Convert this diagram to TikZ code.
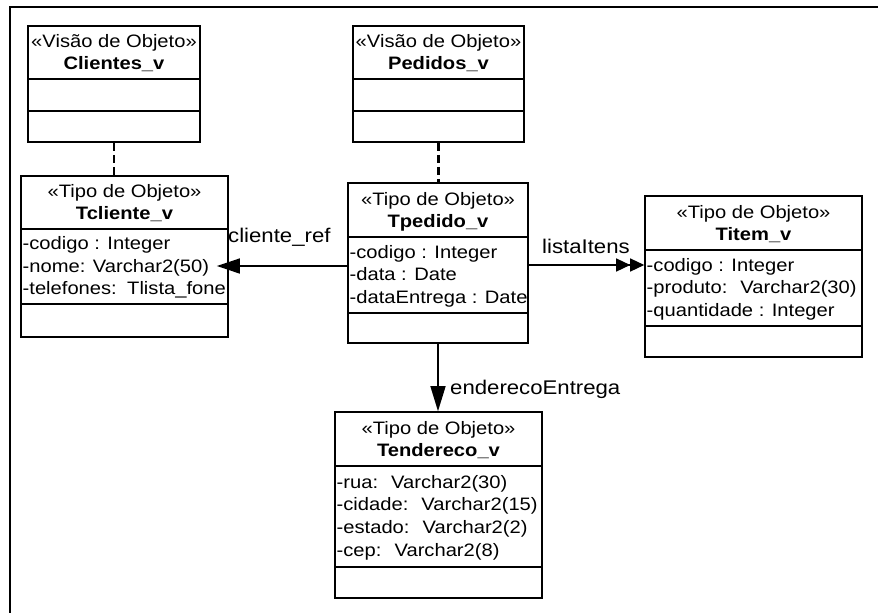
\documentclass[tikz,border=0pt]{standalone}
\usepackage{fontspec}
\setmainfont{Liberation Sans}[FakeStretch=1.12]
\usetikzlibrary{arrows.meta}

\tikzset{
  umlbox/.style={draw, line width=1.6pt, inner sep=0pt, fill=white},
  compsep/.style={line width=1.6pt},
  stereo/.style={anchor=base, inner sep=0pt, font=\fontsize{18}{20}\selectfont},
  cname/.style={anchor=base, inner sep=0pt, font=\fontsize{18}{20}\selectfont\bfseries},
  attr/.style={anchor=base west, inner sep=0pt, font=\fontsize{18}{20}\selectfont},
  attrr/.style={anchor=base east, inner sep=0pt, font=\fontsize{18}{20}\selectfont},
  role/.style={anchor=base west, inner sep=0pt, font=\fontsize{19.8}{22}\selectfont},
  assoc/.style={line width=1.4pt},
  realize/.style={line width=2.6pt, dash pattern=on 8pt off 4pt},
  frameline/.style={line width=2pt},
}

% class rectangle with its two compartment separators
% #1 name, #2 x1, #3 y1, #4 x2, #5 y2, #6 header separator, #7 attribute separator
\newcommand\umlframe[7]{%
  \node[umlbox, minimum width={(#4-#2)*1pt}, minimum height={(#5-#3)*1pt}]
    (#1) at ({(#2+#4)/2},{(#3+#5)/2}) {};
  \draw[compsep] (#1.west |- 0,#6) -- (#1.east |- 0,#6);
  \draw[compsep] (#1.west |- 0,#7) -- (#1.east |- 0,#7);
}

\begin{document}
\begin{tikzpicture}[x=1pt, y=-1pt]
\useasboundingbox (0,0) rectangle (878,613);

% outer frame
\draw[frameline] (878,6.5) -- (10,6.5) -- (10,613);

% views
\umlframe{clientes}{28}{26}{200}{142}{79}{111}
\node[stereo] (clientes-st) at (114,47.5) {«Visão de Objeto»};
\node[cname]  (clientes-nm) at (114,69.5) {Clientes\_v};

\umlframe{pedidos}{353}{26}{524}{142}{79}{111}
\node[stereo] (pedidos-st) at (438.5,47.5) {«Visão de Objeto»};
\node[cname]  (pedidos-nm) at (438.5,69.5) {Pedidos\_v};

% object types
\umlframe{tcliente}{21}{176}{228}{337}{229}{304}
\node[stereo] (tcliente-st) at (124.5,197.5) {«Tipo de Objeto»};
\node[cname]  (tcliente-nm) at (124.5,219.5) {Tcliente\_v};
\node[attr]  (tcliente-a1) at (22.5,249.5) {-codigo : Integer};
\node[attr]  (tcliente-a2) at (22.5,272.2) {-nome: Varchar2(50)};
\node[attr]  (tcliente-a3) at (22.5,294.9) {-telefones:};
\node[attrr] (tcliente-a3t) at (226,294.9) {Tlista\_fone};

\umlframe{tpedido}{348}{183}{528}{343}{237}{313}
\node[stereo] (tpedido-st) at (438,205) {«Tipo de Objeto»};
\node[cname]  (tpedido-nm) at (438,227) {Tpedido\_v};
\node[attr] (tpedido-a1) at (349.5,258) {-codigo : Integer};
\node[attr] (tpedido-a2) at (349.5,280.7) {-data : Date};
\node[attr] (tpedido-a3) at (349.5,303.4) {-dataEntrega : Date};

\umlframe{titem}{645}{196}{862}{357}{250}{326}
\node[stereo] (titem-st) at (753.5,218) {«Tipo de Objeto»};
\node[cname]  (titem-nm) at (753.5,240) {Titem\_v};
\node[attr] (titem-a1) at (646.5,271) {-codigo : Integer};
\node[attr] (titem-a2) at (646.5,293.7) {-produto:~ Varchar2(30)};
\node[attr] (titem-a3) at (646.5,316.4) {-quantidade : Integer};

\umlframe{tendereco}{335}{412}{542}{598}{466}{567}
\node[stereo] (tendereco-st) at (438.5,434) {«Tipo de Objeto»};
\node[cname]  (tendereco-nm) at (438.5,456) {Tendereco\_v};
\node[attr] (tendereco-a1) at (336.5,488) {-rua:~ Varchar2(30)};
\node[attr] (tendereco-a2) at (336.5,510.8) {-cidade:~ Varchar2(15)};
\node[attr] (tendereco-a3) at (336.5,533.6) {-estado:~ Varchar2(2)};
\node[attr] (tendereco-a4) at (336.5,556.4) {-cep:~ Varchar2(8)};

% view -> type realisations
\draw[realize] (clientes.south) -- (clientes.south |- tcliente.north);
\draw[realize] (pedidos.south) -- (pedidos.south |- tpedido.north);

% associations
\path (tcliente.east |- 0,266) ++(-12,0) coordinate (ctip);
\draw[assoc, -{Triangle[length=23pt,width=15pt]}]
  (tpedido.west |- 0,266) -- (ctip);
\draw[assoc, -{Triangle[length=14pt,width=13pt,sep=0pt]Triangle[length=14pt,width=13pt]}]
  (tpedido.east |- 0,265) -- (titem.west |- 0,265);
\draw[assoc, -{Triangle[length=25pt,width=15pt]}]
  (tpedido.south) -- (tpedido.south |- tendereco.north);

% role names
\node[role] (lbl-cliente) at (228,242) {cliente\_ref};
\node[role] (lbl-itens)   at (542,253) {listaItens};
\node[role] (lbl-ender)   at (450,394) {enderecoEntrega};
\end{tikzpicture}
\end{document}
